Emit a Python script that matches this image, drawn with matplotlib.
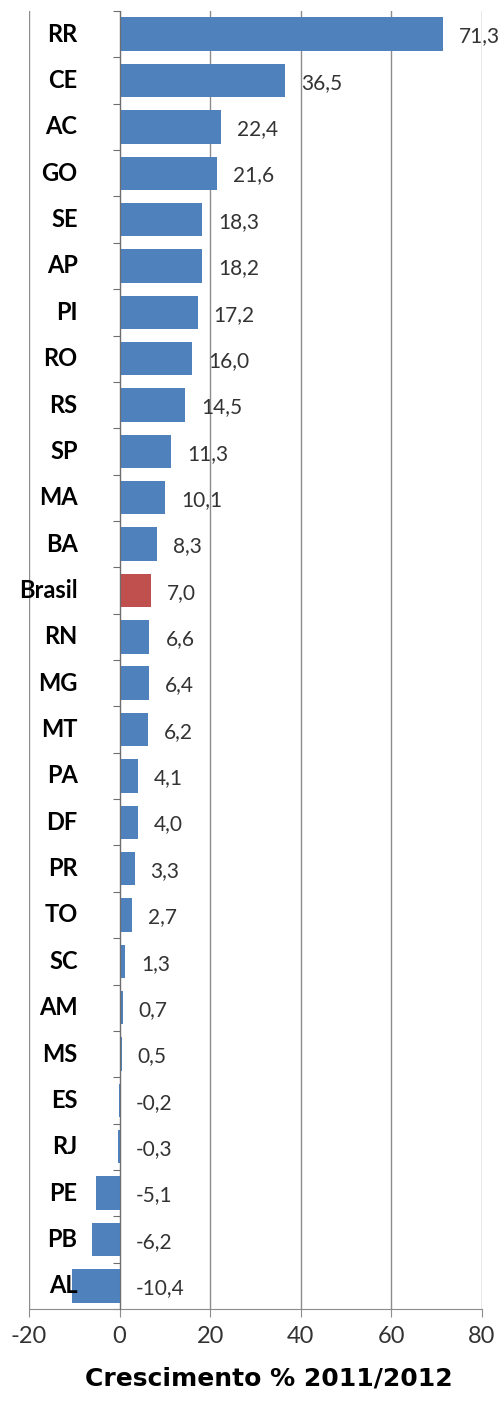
import matplotlib.pyplot as plt
from matplotlib.transforms import offset_copy

# -----------------------------
# Data
# -----------------------------
states = ["RR", "CE", "AC", "GO", "SE", "AP", "PI", "RO", "RS", "SP",
          "MA", "BA", "Brasil", "RN", "MG", "MT", "PA", "DF", "PR", "TO",
          "SC", "AM", "MS", "ES", "RJ", "PE", "PB", "AL"]
growth = [71.3, 36.5, 22.4, 21.6, 18.3, 18.2, 17.2, 16.0, 14.5, 11.3,
          10.1, 8.3, 7.0, 6.6, 6.4, 6.2, 4.1, 4.0, 3.3, 2.7,
          1.3, 0.7, 0.5, -0.2, -0.3, -5.1, -6.2, -10.4]
x_ticks = [-20, 0, 20, 40, 60, 80]

BLUE = "#4F81BD"
RED = "#C0504D"
GRID = "#8C8C8C"

# -----------------------------
# Plot
# -----------------------------
fig = plt.figure(figsize=(5.04, 14.03), dpi=100)
ax = fig.add_axes([29 / 504, 94 / 1403, 453 / 504, 1298 / 1403])

ypos = list(range(len(states)))
colors = [RED if s == "Brasil" else BLUE for s in states]
ax.barh(ypos, growth, height=0.72, color=colors, zorder=3)

ax.set_xlim(-20, 80)
ax.set_ylim(len(states) - 0.5, -0.5)

ax.set_xticks(x_ticks)
ax.set_xticklabels([str(t) for t in x_ticks], family="Lato", fontsize=17,
                   color="#333333")
ax.xaxis.grid(True, color=GRID, linewidth=1, zorder=0)
ax.tick_params(axis="x", direction="out", length=6, color=GRID, pad=6)

# category axis sits on zero, tick marks at boundaries
ax.spines["left"].set_position(("data", 0))
ax.spines["left"].set_color("#6E6E6E")
ax.spines["left"].set_zorder(4)
ax.spines["bottom"].set_color(GRID)
ax.spines["top"].set_visible(False)
ax.spines["right"].set_visible(False)
ax.set_yticks([i - 0.5 for i in range(len(states) + 1)])
ax.set_yticklabels([])
ax.tick_params(axis="y", direction="out", length=5, color="#6E6E6E")

# category labels
name_tr = offset_copy(ax.transData, fig=fig, x=-42, y=0, units="dots")
for i, s in enumerate(states):
    ax.text(0, i, s, transform=name_tr, ha="right", va="center",
            family="Lato", fontweight="bold", fontsize=17, zorder=5)

# value labels
val_tr = offset_copy(ax.transData, fig=fig, x=16, y=0, units="dots")
for i, v in enumerate(growth):
    ax.text(max(v, 0), i + 0.05, f"{v:.1f}".replace(".", ","),
            transform=val_tr, ha="left", va="center",
            family="Lato", fontsize=15, color="#333333", zorder=5)

ax.set_xlabel("Crescimento % 2011/2012", family="DejaVu Sans",
              fontweight="bold", fontsize=18, labelpad=14)
ax.xaxis.set_label_coords(0.53, -0.044)

fig.savefig("out.png", dpi=100)
